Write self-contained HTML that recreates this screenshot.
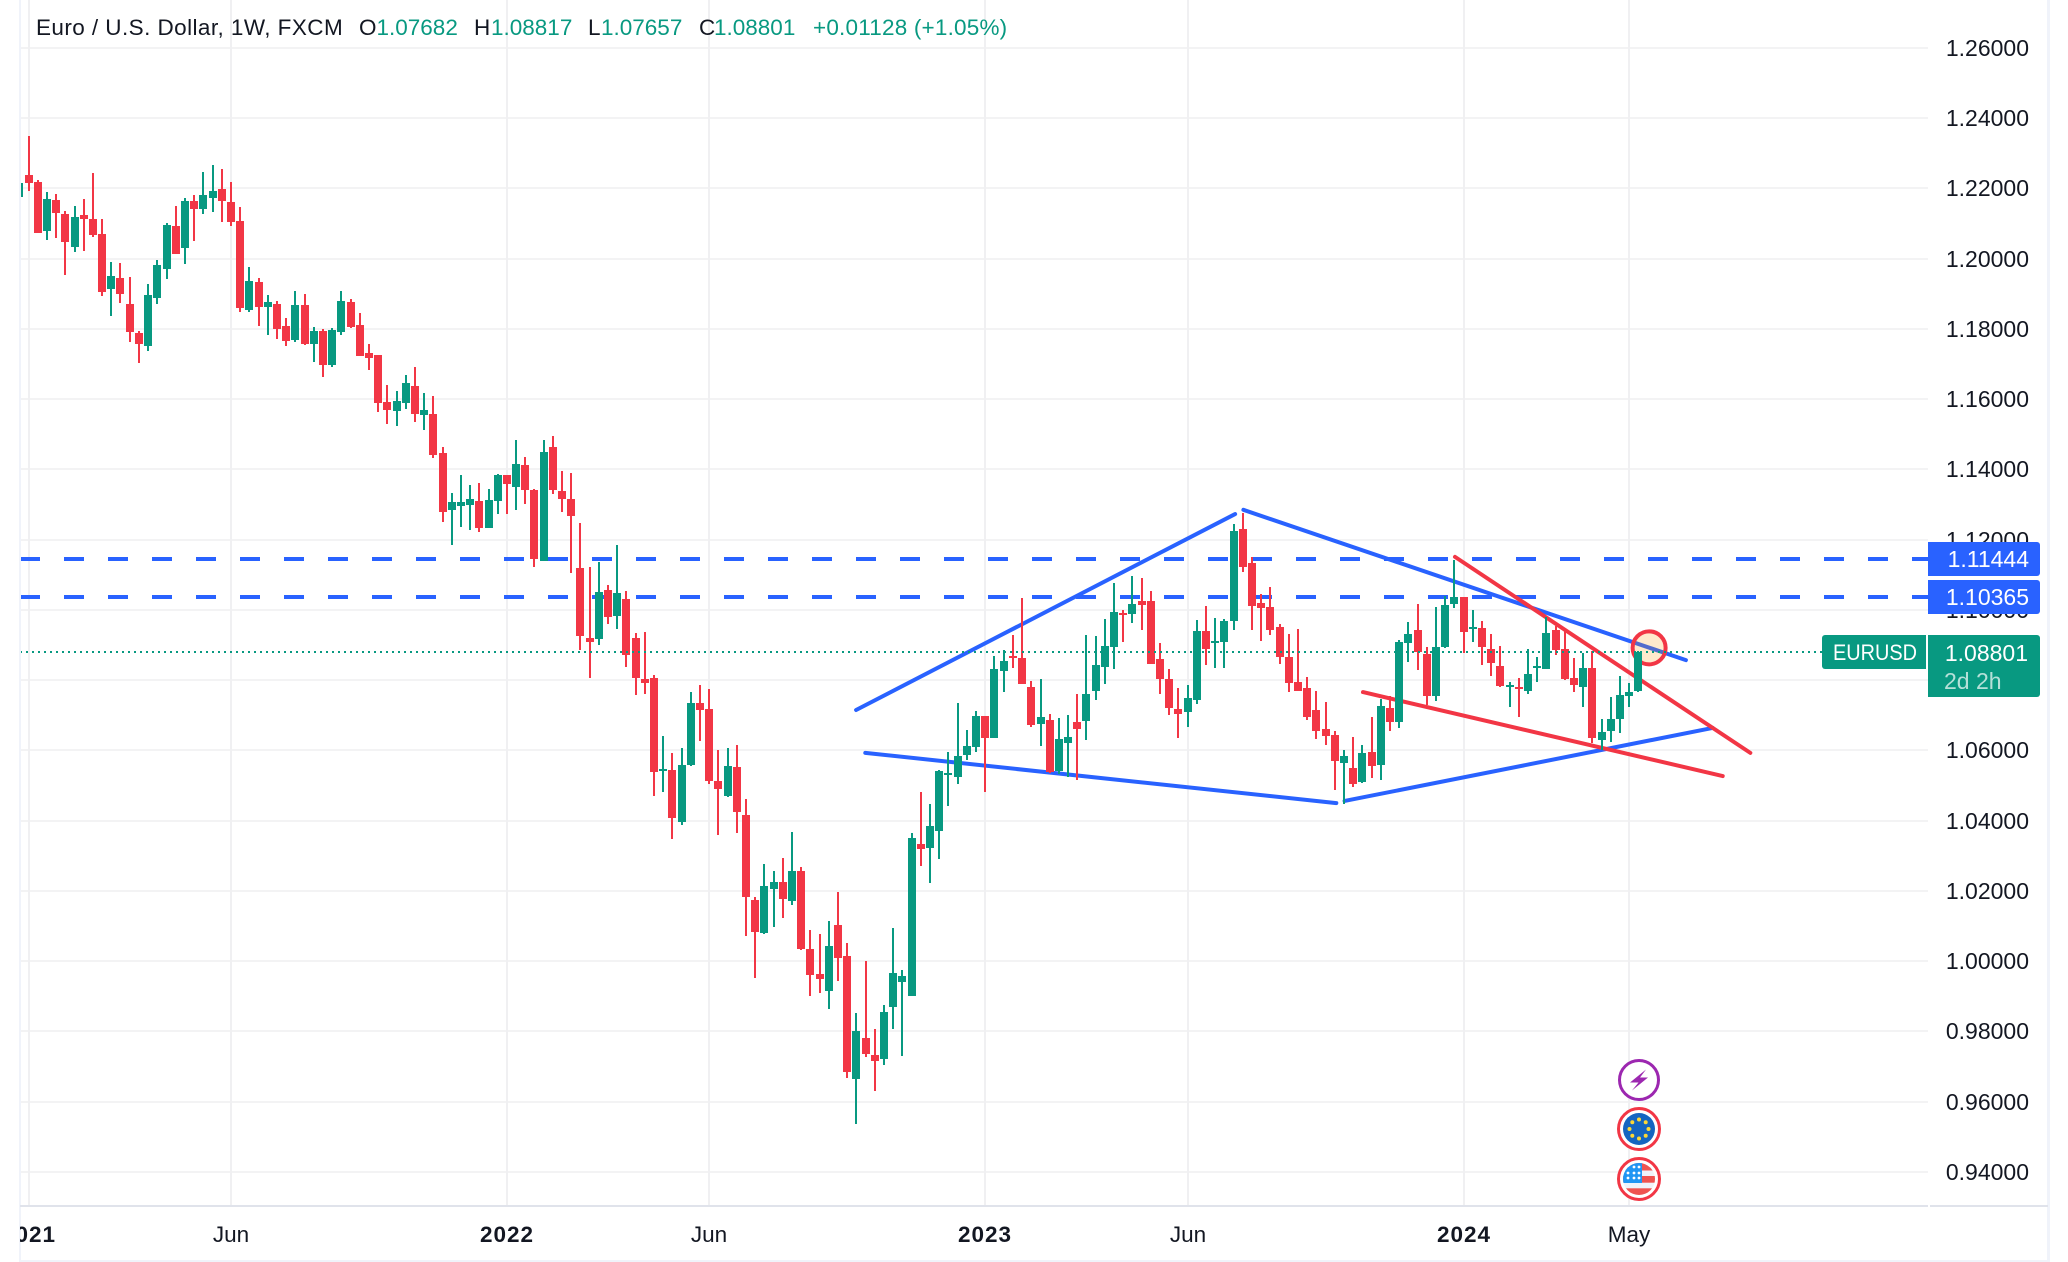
<!DOCTYPE html>
<html lang="en">
<head>
<meta charset="utf-8">
<title>EURUSD weekly chart</title>
<style>
html,body{margin:0;padding:0;background:#fff;width:2068px;height:1262px;overflow:hidden}
svg{display:block;font-family:"Liberation Sans",sans-serif}
</style>
</head>
<body>
<svg id="chart" xmlns="http://www.w3.org/2000/svg" width="2068" height="1262" viewBox="0 0 2068 1262">
  <defs>
    <clipPath id="pane-clip"><rect x="20" y="0" width="1908" height="1205"/></clipPath>
    <clipPath id="time-clip"><rect x="20" y="1207" width="2027" height="53"/></clipPath>
    <clipPath id="flag-clip"><circle cx="1639" cy="1179" r="16"/></clipPath>
  </defs>
  <rect x="0" y="0" width="2068" height="1262" fill="#ffffff"/>
  <g id="grid" clip-path="url(#pane-clip)"></g>
  <g id="drawings" clip-path="url(#pane-clip)"></g>
  <g id="candles" clip-path="url(#pane-clip)"></g>
  <g id="overlay" clip-path="url(#pane-clip)"></g>

  <rect x="19" y="0" width="2" height="1262" fill="#f0f3fa"/>
  <rect x="2047" y="0" width="3" height="1262" fill="#f0f3fa"/>
  <rect x="19" y="1260" width="2031" height="2" fill="#f0f3fa"/>
  <rect x="20" y="1205" width="1908" height="2" fill="#e0e3eb"/>
  <rect x="1930" y="1205" width="118" height="2" fill="#e0e3eb"/>

  <g id="price-axis" font-size="23" fill="#131722" text-anchor="end"></g>
  <g id="time-axis" font-size="22.5" fill="#131722" text-anchor="middle" clip-path="url(#time-clip)"></g>

  <g>
    <path d="M1928 542H2037a3 3 0 0 1 3 3V573a3 3 0 0 1-3 3H1928Z" fill="#2962ff"/>
    <text x="2029" y="567" font-size="23" fill="#ffffff" text-anchor="end">1.11444</text>
  </g>
  <g>
    <path d="M1928 580H2037a3 3 0 0 1 3 3V611a3 3 0 0 1-3 3H1928Z" fill="#2962ff"/>
    <text x="2029" y="605" font-size="23" fill="#ffffff" text-anchor="end">1.10365</text>
  </g>
  <g>
    <path d="M1825 635H1926V669H1825a3 3 0 0 1-3-3V638a3 3 0 0 1 3-3Z" fill="#089981"/>
    <text x="1833" y="660" font-size="22.5" fill="#ffffff" textLength="84" lengthAdjust="spacingAndGlyphs">EURUSD</text>
  </g>
  <g>
    <path d="M1928 635H2037a3 3 0 0 1 3 3V694a3 3 0 0 1-3 3H1928Z" fill="#089981"/>
    <text x="2028" y="661" font-size="23" fill="#ffffff" text-anchor="end">1.08801</text>
    <text x="1944" y="689" font-size="23" fill="#b5e0d8">2d 2h</text>
  </g>

  <g font-size="22.5" fill="#131722">
    <text x="36" y="35" letter-spacing="0.43">Euro / U.S. Dollar, 1W, FXCM</text>
    <text x="359" y="35">O</text>
    <text x="376.5" y="35" fill="#089981">1.07682</text>
    <text x="474" y="35">H</text>
    <text x="491" y="35" fill="#089981">1.08817</text>
    <text x="588" y="35">L</text>
    <text x="601" y="35" fill="#089981">1.07657</text>
    <text x="699" y="35">C</text>
    <text x="714" y="35" fill="#089981">1.08801</text>
    <text x="813" y="35" fill="#089981" letter-spacing="0.2">+0.01128 (+1.05%)</text>
  </g>

  <g>
    <circle cx="1639" cy="1080" r="19.5" fill="#ffffff" stroke="#9c27b0" stroke-width="3"/>
    <path d="M1646 1069.5L1630 1082.5H1638.5L1632 1090.5L1648 1077.5H1640Z" fill="#9c27b0"/>
  </g>
  <g>
    <circle cx="1639" cy="1129" r="20.5" fill="#ffffff" stroke="#f23645" stroke-width="3"/>
    <circle cx="1639" cy="1129" r="16" fill="#1565c0"/>
    <g id="eu-stars" fill="#fdd835">
      <circle cx="1639" cy="1119.5" r="2"/><circle cx="1645.7" cy="1122.3" r="2"/>
      <circle cx="1648.5" cy="1129" r="2"/><circle cx="1645.7" cy="1135.7" r="2"/>
      <circle cx="1639" cy="1138.5" r="2"/><circle cx="1632.3" cy="1135.7" r="2"/>
      <circle cx="1629.5" cy="1129" r="2"/><circle cx="1632.3" cy="1122.3" r="2"/>
    </g>
  </g>
  <g>
    <circle cx="1639" cy="1179" r="20.5" fill="#ffffff" stroke="#f23645" stroke-width="3"/>
    <g clip-path="url(#flag-clip)">
      <rect x="1623" y="1163" width="32" height="32" fill="#f0f3fa"/>
      <rect x="1623" y="1163" width="32" height="7.5" fill="#ef5350"/>
      <rect x="1623" y="1176" width="32" height="6.7" fill="#ef5350"/>
      <rect x="1623" y="1188.3" width="32" height="6.7" fill="#ef5350"/>
      <rect x="1623" y="1163" width="19" height="20" fill="#2196f3"/>
      <g fill="#ffffff">
        <circle cx="1634" cy="1167" r="1.4"/><circle cx="1639" cy="1167" r="1.4"/>
        <circle cx="1628" cy="1173" r="1.4"/><circle cx="1634" cy="1173" r="1.4"/><circle cx="1639" cy="1173" r="1.4"/>
        <circle cx="1628" cy="1178" r="1.4"/><circle cx="1634" cy="1178" r="1.4"/><circle cx="1639" cy="1178" r="1.4"/>
      </g>
    </g>
  </g>
</svg>

<script>
// Weekly candle data, oldest first (first bar is clipped by the left pane edge).
const opens = [1.2176,
1.2238,1.2219,1.2079,1.2167,1.2127,1.2033,1.2125,1.2113,1.2070,1.1914,
1.1945,1.1871,1.1789,1.1752,1.1888,1.1971,1.2093,1.2031,1.2164,1.2142,
1.2173,1.2199,1.2162,1.2107,1.1854,1.1934,1.1863,1.1871,1.1809,1.1769,
1.1868,1.1757,1.1794,1.1697,1.1791,1.1877,1.1811,1.1732,1.1726,1.1592,
1.1567,1.1589,1.1638,1.1555,1.1558,1.1447,1.1285,1.1296,1.1299,1.1310,
1.1233,1.1310,1.1384,1.1350,1.1413,1.1342,1.1139,1.1464,1.1339,1.1316,
1.1119,1.0920,1.0917,1.1057,1.0983,1.1031,1.0920,1.0803,1.0806,1.0541,
1.0544,1.0396,1.0559,1.0735,1.0718,1.0513,1.0470,1.0553,1.0416,1.0174,
1.0080,1.0205,1.0225,1.0171,1.0257,1.0035,0.9963,0.9915,1.0103,1.0015,
0.9665,0.9781,0.9733,0.9721,0.9870,0.9941,0.9901,1.0334,1.0322,1.0371,
1.0530,1.0524,1.0587,1.0610,1.0698,1.0636,1.0826,1.0869,1.0863,1.0781,
1.0675,1.0687,1.0542,1.0621,1.0681,1.0684,1.0769,1.0838,1.0895,1.0991,
1.0989,1.1026,1.1026,1.0860,1.0803,1.0718,1.0709,1.0744,1.0940,1.0906,
1.0909,1.0969,1.1231,1.1134,1.1020,1.1008,1.0952,1.0866,1.0795,1.0778,
1.0715,1.0661,1.0644,1.0564,1.0550,1.0510,1.0596,1.0559,1.0721,1.0681,
1.0906,1.0943,1.0875,1.0755,1.0895,1.1017,1.1037,1.0946,1.0949,1.0889,
1.0840,1.0781,1.0781,1.0769,1.0835,1.0832,1.0943,1.0889,1.0806,1.0781,
1.0835,1.0630,1.0655,1.0690,1.0755,1.07682];

const highs = [1.2216,
1.2349,1.2224,1.2190,1.2184,1.2136,1.2150,1.2170,1.2244,1.2113,1.1991,
1.1988,1.1948,1.1794,1.1928,1.1996,1.2102,1.2150,1.2173,1.2181,1.2247,
1.2267,1.2255,1.2219,1.2147,1.1976,1.1945,1.1897,1.1880,1.1831,1.1908,
1.1900,1.1806,1.1800,1.1803,1.1908,1.1885,1.1845,1.1757,1.1726,1.1641,
1.1623,1.1669,1.1692,1.1618,1.1609,1.1464,1.1333,1.1384,1.1356,1.1361,
1.1344,1.1387,1.1384,1.1484,1.1435,1.1344,1.1484,1.1495,1.1396,1.1390,
1.1248,1.1122,1.1137,1.1071,1.1185,1.1054,1.0934,1.0937,1.0815,1.0641,
1.0593,1.0607,1.0766,1.0786,1.0775,1.0601,1.0607,1.0616,1.0462,1.0183,
1.0277,1.0257,1.0294,1.0368,1.0268,1.0089,1.0077,1.0114,1.0197,1.0052,
0.9852,1.0000,0.9807,0.9875,1.0094,0.9975,1.0365,1.0482,1.0447,1.0544,
1.0595,1.0735,1.0658,1.0712,1.0698,1.0869,1.0886,1.0929,1.1034,1.0798,
1.0803,1.0704,1.0692,1.0701,1.0761,1.0929,1.0926,1.0974,1.1077,1.1000,
1.1097,1.1091,1.1054,1.0906,1.0832,1.0778,1.0786,1.0971,1.1011,1.0977,
1.0974,1.1245,1.1276,1.1151,1.1045,1.1065,1.0960,1.0932,1.0946,1.0809,
1.0769,1.0738,1.0655,1.0601,1.0638,1.0616,1.0695,1.0746,1.0755,1.0914,
1.0966,1.1017,1.0895,1.1008,1.1040,1.1142,1.1037,1.1000,1.0969,1.0932,
1.0897,1.0795,1.0806,1.0889,1.0866,1.0980,1.0954,1.0943,1.0863,1.0877,
1.0883,1.0690,1.0752,1.0812,1.0792,1.08817];

const lows = [1.2176,
1.2193,1.2073,1.2053,1.2059,1.1954,1.2019,1.2022,1.2062,1.1894,1.1837,
1.1874,1.1763,1.1703,1.1737,1.1871,1.1942,1.2014,1.1985,1.2051,1.2127,
1.2133,1.2105,1.2093,1.1848,1.1848,1.1809,1.1783,1.1772,1.1752,1.1763,
1.1754,1.1706,1.1663,1.1692,1.1783,1.1803,1.1723,1.1683,1.1564,1.1530,
1.1524,1.1572,1.1535,1.1512,1.1433,1.1251,1.1185,1.1236,1.1228,1.1222,
1.1233,1.1273,1.1273,1.1285,1.1302,1.1122,1.1139,1.1330,1.1279,1.1105,
1.0886,1.0806,1.0900,1.0960,1.0946,1.0838,1.0758,1.0761,1.0470,1.0482,
1.0348,1.0388,1.0556,1.0627,1.0504,1.0359,1.0468,1.0365,1.0072,0.9952,
1.0077,1.0097,1.0123,1.0160,1.0032,0.9901,0.9909,0.9864,0.9943,0.9667,
0.9536,0.9727,0.9630,0.9704,0.9807,0.9730,0.9901,1.0271,1.0222,1.0291,
1.0442,1.0504,1.0573,1.0595,1.0482,1.0636,1.0766,1.0835,1.0789,1.0667,
1.0613,1.0535,1.0533,1.0524,1.0516,1.0630,1.0744,1.0789,1.0832,1.0909,
1.0963,1.0943,1.0846,1.0761,1.0701,1.0636,1.0667,1.0732,1.0843,1.0835,
1.0835,1.0943,1.1108,1.0943,1.0912,1.0929,1.0846,1.0766,1.0769,1.0687,
1.0633,1.0616,1.0487,1.0448,1.0496,1.0507,1.0522,1.0516,1.0655,1.0664,
1.0852,1.0829,1.0729,1.0741,1.0892,1.1006,1.0877,1.0909,1.0843,1.0812,
1.0781,1.0724,1.0695,1.0761,1.0795,1.0832,1.0872,1.0801,1.0766,1.0724,
1.0621,1.0601,1.0624,1.0650,1.0724,1.07657];

const closes = [1.2216,
1.2216,1.2073,1.2170,1.2130,1.2048,1.2119,1.2113,1.2068,1.1905,1.1951,
1.1900,1.1791,1.1757,1.1897,1.1982,1.2096,1.2014,1.2164,1.2142,1.2181,
1.2193,1.2164,1.2105,1.1860,1.1937,1.1863,1.1877,1.1800,1.1766,1.1868,
1.1757,1.1794,1.1697,1.1797,1.1880,1.1806,1.1723,1.1717,1.1589,1.1569,
1.1595,1.1646,1.1558,1.1569,1.1441,1.1279,1.1307,1.1307,1.1316,1.1233,
1.1313,1.1384,1.1359,1.1416,1.1342,1.1145,1.1450,1.1342,1.1316,1.1268,
1.0926,1.0909,1.1051,1.0980,1.1048,1.0872,1.0806,1.0792,1.0539,1.0547,
1.0408,1.0559,1.0735,1.0715,1.0513,1.0490,1.0556,1.0425,1.0183,1.0083,
1.0214,1.0225,1.0177,1.0257,1.0035,0.9961,0.9949,1.0043,1.0009,0.9684,
0.9801,0.9736,0.9716,0.9855,0.9966,0.9958,1.0351,1.0319,1.0385,1.0541,
1.0536,1.0584,1.0613,1.0698,1.0636,1.0832,1.0855,1.0863,1.0789,1.0672,
1.0695,1.0539,1.0633,1.0638,1.0661,1.0761,1.0843,1.0897,1.0994,1.0986,
1.1017,1.1014,1.0846,1.0803,1.0721,1.0704,1.0749,1.0940,1.0889,1.0912,
1.0969,1.1225,1.1122,1.1011,1.1006,1.0943,1.0866,1.0792,1.0769,1.0695,
1.0655,1.0641,1.0570,1.0584,1.0505,1.0593,1.0556,1.0727,1.0681,1.0909,
1.0932,1.0880,1.0755,1.0895,1.1014,1.1037,1.0937,1.0951,1.0895,1.0849,
1.0783,1.0786,1.0775,1.0818,1.0840,1.0934,1.0886,1.0803,1.0786,1.0835,
1.0635,1.0653,1.0690,1.0758,1.0766,1.08801];

const priceTicks = [1.26,1.24,1.22,1.20,1.18,1.16,1.14,1.12,1.10,1.08,1.06,1.04,1.02,1.00,0.98,0.96,0.94];
const timeTickLabels = ["2021","Jun","2022","Jun","2023","Jun","2024","May"];
const timeTickBars = [1,23,53,75,105,127,157,175];
const timeTickBold = [true,false,true,false,true,false,true,false];

const levelPrices = [1.11444,1.10365];
const lastPrice = 1.08801;

// Trendline anchors in bar index / price.
const blueLineStartBar = [90.9,133.0,91.9,144.0];
const blueLineStartPrice = [1.0715,1.1285,1.0593,1.0456];
const blueLineEndBar = [132.1,181.1,143.1,184.0];
const blueLineEndPrice = [1.1273,1.0857,1.0450,1.0664];
const redLineStartBar = [156.0,146.0];
const redLineStartPrice = [1.1151,1.0766];
const redLineEndBar = [188.1,185.1];
const redLineEndPrice = [1.0593,1.0527];
const markerBar = 177.1;
const markerPrice = 1.0892;

const NS = "http://www.w3.org/2000/svg";
const UP = "#089981", DOWN = "#f23645", BLUE = "#2962ff", GRID = "#f3f3f4";
function xOf(bar){ return 19.8 + 9.2 * bar; }
function yOf(price){ return 48 + (1.26 - price) * 3512; }
function make(parent, tag, attrs){
  const el = document.createElementNS(NS, tag);
  for (const k in attrs) el.setAttribute(k, attrs[k]);
  parent.appendChild(el);
  return el;
}

const gridG = document.getElementById("grid");
const priceAxisG = document.getElementById("price-axis");
const timeAxisG = document.getElementById("time-axis");
const drawingsG = document.getElementById("drawings");
const candlesG = document.getElementById("candles");
const overlayG = document.getElementById("overlay");

priceTicks.forEach(function(p){
  const y = Math.round(yOf(p));
  const line = make(gridG, "rect", {x:20, y:y-1, width:1908, height:2, fill:GRID});
  
  
  const label = make(priceAxisG, "text", {x:2029, y:y+8});
  label.textContent = p.toFixed(5);
  
  
});

timeTickLabels.forEach(function(t, i){
  const x = Math.floor(xOf(timeTickBars[i]));
  const line = make(gridG, "rect", {x:x-1, y:0, width:2, height:1205, fill:"#f0f0f2"});
  
  
  const label = make(timeAxisG, "text", {x:x, y:1242, "font-weight": timeTickBold[i] ? "700" : "400", "letter-spacing": timeTickBold[i] ? "1" : "0"});
  label.textContent = t;
  
  
});

levelPrices.forEach(function(p){
  const y = Math.round(yOf(p));
  const line = make(drawingsG, "line", {x1:20, x2:1928, y1:y, y2:y, stroke:BLUE, "stroke-width":4, "stroke-dasharray":"20 24"});
  
  
});

blueLineStartBar.forEach(function(b, i){
  const line = make(drawingsG, "line", {
    x1:xOf(b), y1:yOf(blueLineStartPrice[i]), x2:xOf(blueLineEndBar[i]), y2:yOf(blueLineEndPrice[i]),
    stroke:BLUE, "stroke-width":4, "stroke-linecap":"round"
  });
  
  
});

const marker = make(drawingsG, "circle", {
  cx:xOf(markerBar), cy:yOf(markerPrice), r:16.5,
  fill:"rgba(255,152,0,0.2)", stroke:DOWN, "stroke-width":4
});



redLineStartBar.forEach(function(b, i){
  const line = make(drawingsG, "line", {
    x1:xOf(b), y1:yOf(redLineStartPrice[i]), x2:xOf(redLineEndBar[i]), y2:yOf(redLineEndPrice[i]),
    stroke:DOWN, "stroke-width":4, "stroke-linecap":"round"
  });
  
  
});

opens.forEach(function(o, i){
  const c = closes[i];
  const color = c >= o ? UP : DOWN;
  const x = Math.floor(xOf(i));
  const top = Math.round(yOf(Math.max(o, c)));
  const bottom = Math.round(yOf(Math.min(o, c)));
  const hi = Math.round(yOf(highs[i]));
  const lo = Math.round(yOf(lows[i]));
  const g = make(candlesG, "g", {});
  
  
  make(g, "rect", {x:x-1, y:hi, width:2, height:Math.max(lo-hi, 1), fill:color});
  make(g, "rect", {x:x-4, y:top, width:8, height:Math.max(bottom-top, 2), fill:color});
});

const lastLine = make(overlayG, "line", {
  x1:20, x2:1822, y1:Math.round(yOf(lastPrice)), y2:Math.round(yOf(lastPrice)),
  stroke:UP, "stroke-width":2, "stroke-dasharray":"2 4"
});


</script>
</body>
</html>
